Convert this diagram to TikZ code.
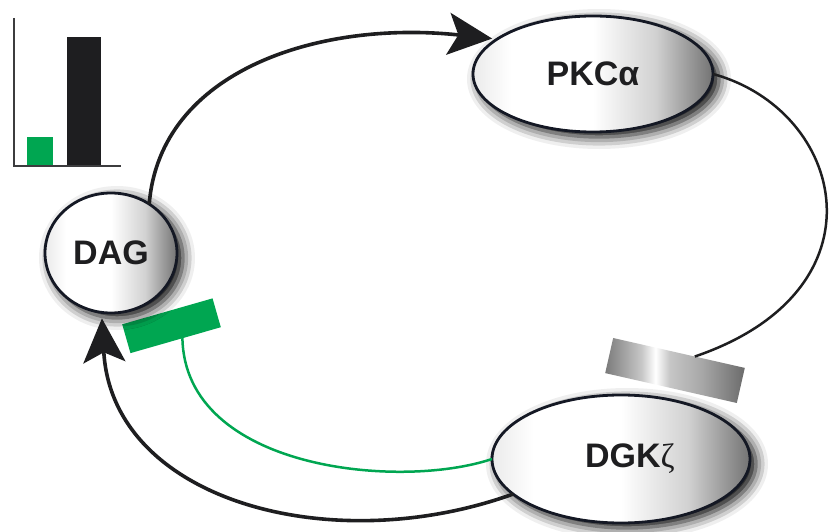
\documentclass[tikz,border=0pt]{standalone}
\usepackage{fontspec}
\setmainfont{Liberation Sans}
\newfontfamily\greekserif{Liberation Serif}
\usetikzlibrary{arrows.meta,shapes.geometric,shadows.blur,calc}

\definecolor{ink}{RGB}{30,30,32}
\definecolor{rim}{RGB}{20,24,36}
\definecolor{leafgreen}{RGB}{0,166,81}
\definecolor{axisgrey}{RGB}{60,60,62}

% light on the left, greying towards the right rim
\pgfdeclarehorizontalshading{orbfill}{100bp}{color(0bp)=(black!8); color(25bp)=(black!8);
  color(33bp)=(white); color(50bp)=(white); color(63bp)=(black!18);
  color(75bp)=(black!55); color(100bp)=(black!55)}
% brushed-metal blocking bar
\pgfdeclarehorizontalshading{steelbar}{100bp}{color(0bp)=(black!52); color(25bp)=(black!52);
  color(38bp)=(black!22); color(43bp)=(white); color(48bp)=(black!22);
  color(60bp)=(black!35); color(75bp)=(black!58); color(100bp)=(black!58)}

\begin{document}
\begin{tikzpicture}[x=1pt,y=-1pt,
  orb/.style={ellipse, draw=rim, line width=2.8pt, shading=orbfill, inner sep=0pt,
    outer sep=0pt, font=\bfseries\fontsize{34}{38}\selectfont, text=ink,
    blur shadow={shadow xshift=6pt, shadow yshift=-5pt, shadow blur radius=12pt,
      shadow opacity=100}},
  greenblock/.style={rectangle, fill=leafgreen, inner sep=0pt, outer sep=0pt,
    minimum width=94pt, minimum height=30pt},
  steelblock/.style={rectangle, shading=steelbar, inner sep=0pt, outer sep=0pt,
    minimum width=135pt, minimum height=36pt},
  link/.style={draw=ink, line width=3.6pt},
  feed/.style={draw=ink, line width=2.5pt},
  greenfeed/.style={draw=leafgreen, line width=2.5pt},
  head/.style={-{Stealth[length=44pt,width=42pt,inset=10pt]}},
  axisline/.style={draw=axisgrey, line width=2pt}]

\useasboundingbox (0,0) rectangle (831,532);

% small bar chart
\fill[leafgreen] (27,137) rectangle (53,166);
\fill[ink] (67,37) rectangle (101,166);
\draw[axisline] (14,18) -- (14,166) -- (121,166);

% blocking bars
\node[steelblock, rotate=-12.8] (sbar) at (675,370.5) {};
\node[greenblock, rotate=16] (gbar) at (171.5,325.75) {};

% species
\node[orb, minimum width=132pt, minimum height=120pt] (dag) at (111,253) {DAG};
\node[orb, minimum width=240pt, minimum height=116pt] (pkc) at (593,74) {PKCα};
\node[orb, minimum width=258pt, minimum height=128pt] (dgk) at (621,459)
  {\kern18pt DGK{\greekserif\mdseries ζ}};

% connectors
\draw[link, head, shorten >=5pt] (dag.52) .. controls (160,70) and (320,20) .. (pkc.160);
\draw[feed] (pkc.east) .. controls (845,110) and (890,290)
  .. ($(sbar.north)!0.24!(sbar.north east)$);
\draw[greenfeed] (dgk.west) .. controls (400,490) and (185,470)
  .. ($(gbar.south)!0.15!(gbar.south east)$);
\draw[link, head, shorten >=6pt] (dgk.198) .. controls (330,560) and (112,500) .. (dag.261);

\end{tikzpicture}
\end{document}
